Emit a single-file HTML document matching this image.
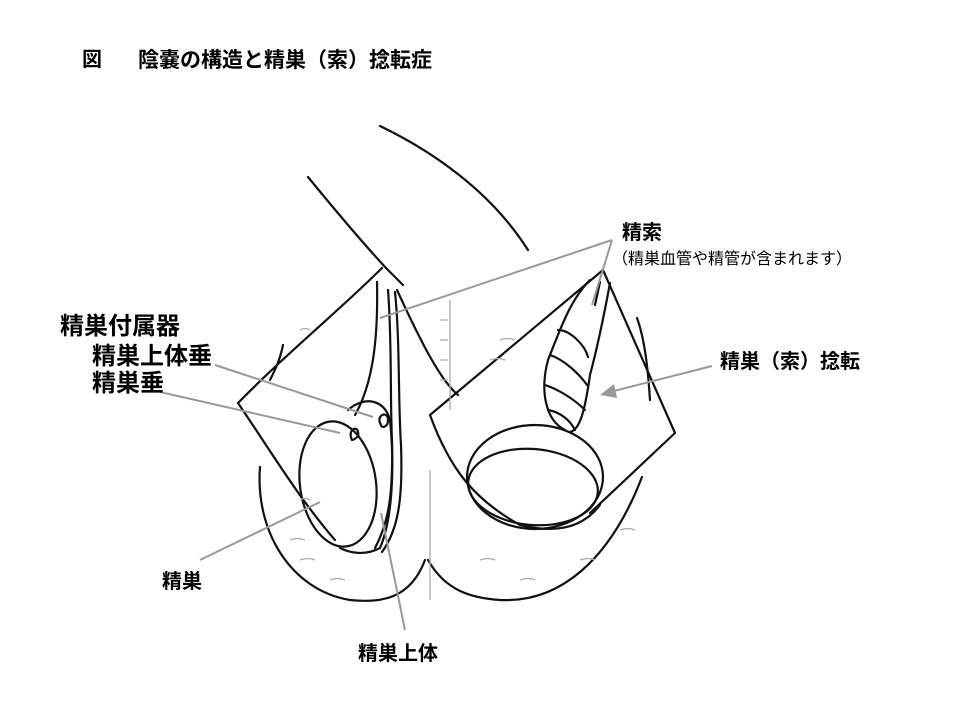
<!DOCTYPE html>
<html><head><meta charset="utf-8"><style>
html,body{margin:0;padding:0;background:#fff;}
body{width:960px;height:720px;overflow:hidden;position:relative;}
.t{position:absolute;font-family:"Liberation Sans","Noto Sans CJK JP",sans-serif;color:#000;white-space:nowrap;line-height:1;font-weight:bold;}
svg{position:absolute;left:0;top:0;}
</style></head><body>
<svg width="960" height="720" viewBox="0 0 960 720">
<g fill="none" stroke="#111" stroke-width="2.2" stroke-linecap="round" stroke-linejoin="round">
<path d="M308,177 C335,210 360,240 386,268"/>
<path d="M380,126 C430,150 490,190 528,250"/>
<path d="M386,268 L403,285"/>
<path d="M382,268 C340,310 290,350 238,403 C270,450 300,500 335,540"/>
<path d="M377,282 C378,330 375,380 355,415"/>
<path d="M388,290 C392,340 390,400 392,440 C393,490 390,520 375,548"/>
<path d="M395,292 C400,340 398,400 401,445 C403,500 398,530 382,552"/>
<path d="M397,290 C420,340 440,380 458,395"/>
<path d="M260,467 C255,530 290,590 350,600 C380,603 410,600 425,560"/>
<path d="M283,345 C280,360 275,370 270,380"/>
<ellipse cx="338" cy="484" rx="38" ry="63" transform="rotate(-8 338 484)"/>
<path d="M348,410 C365,395 385,400 390,420 C395,470 392,520 380,548 C365,556 350,553 340,548"/>
<path d="M352,440 C347,430 357,425 358,432 C360,438 352,440 352,440"/>
<path d="M381,425 C375,415 388,410 388,420 C388,428 381,428 381,425"/>
<path d="M428,560 C445,590 470,598 500,600 C560,603 610,560 642,477"/>
<path d="M637,318 C645,340 648,370 650,400"/>
<path d="M430,415 L603,270 L675,433 L590,513"/>
<path d="M430,415 C450,470 475,500 520,525 C560,535 585,525 600,505"/>
<ellipse cx="535" cy="477" rx="68" ry="52"/>
<ellipse cx="533" cy="487" rx="65" ry="38" transform="rotate(5 533 487)"/>
<path d="M590,280 C570,300 560,330 548,360 C540,390 545,420 565,430"/>
<path d="M610,283 C605,310 598,345 590,375 C585,410 580,430 570,432"/>
<path d="M558,330 C570,330 585,345 588,357"/>
<path d="M550,355 C565,360 580,375 587,385"/>
<path d="M545,385 C560,390 575,400 585,410"/>
<path d="M548,410 C560,412 570,420 575,430"/>
<path d="M600,282 L595,305"/>
</g>
<g stroke="#aaa" stroke-width="1.3" fill="none">
<path d="M450,300 l0,110 M440,320 l8,0 M440,340 l8,0 M440,360 l8,0 M440,380 l8,0"/>
<path d="M430,470 l0,130"/>
<path d="M300,330 q5,-3 10,0 M300,500 q5,-3 10,0 M290,540 q8,-3 15,0 M300,560 q8,-3 15,0 M330,580 q8,-3 15,0 M480,560 q8,-3 15,0 M520,580 q8,-3 15,0 M580,560 q8,-3 15,0 M620,530 q8,-3 15,0 M500,340 q8,-3 15,0 M490,360 q8,-3 15,0"/>
</g>
<g stroke="#999" stroke-width="2" fill="none">
<path d="M612,240 L380,318 M612,240 L592,305"/>
<path d="M215,365 L373,417"/>
<path d="M160,392 L340,433"/>
<path d="M200,560 L320,502"/>
<path d="M405,630 L381,513"/>
<path d="M712,366 L610,392"/>
</g>
<path d="M600,395 L614,384 L617,398 Z" fill="#999"/>
</svg>
<div class="t" style="left:82px;top:50px;font-size:20px;">図</div>
<div class="t" style="left:138px;top:50px;font-size:21px;">陰嚢の構造と精巣（索）捻転症</div>
<div class="t" style="left:622px;top:223px;font-size:20px;">精索</div>
<div class="t" style="left:612px;top:252px;font-size:16px;font-weight:normal;">（精巣血管や精管が含まれます）</div>
<div class="t" style="left:60px;top:315px;font-size:24px;">精巣付属器</div>
<div class="t" style="left:92px;top:345px;font-size:24px;">精巣上体垂</div>
<div class="t" style="left:92px;top:372px;font-size:24px;">精巣垂</div>
<div class="t" style="left:720px;top:352px;font-size:20px;">精巣（索）捻転</div>
<div class="t" style="left:162px;top:572px;font-size:20px;">精巣</div>
<div class="t" style="left:358px;top:644px;font-size:20px;">精巣上体</div>
</body></html>
